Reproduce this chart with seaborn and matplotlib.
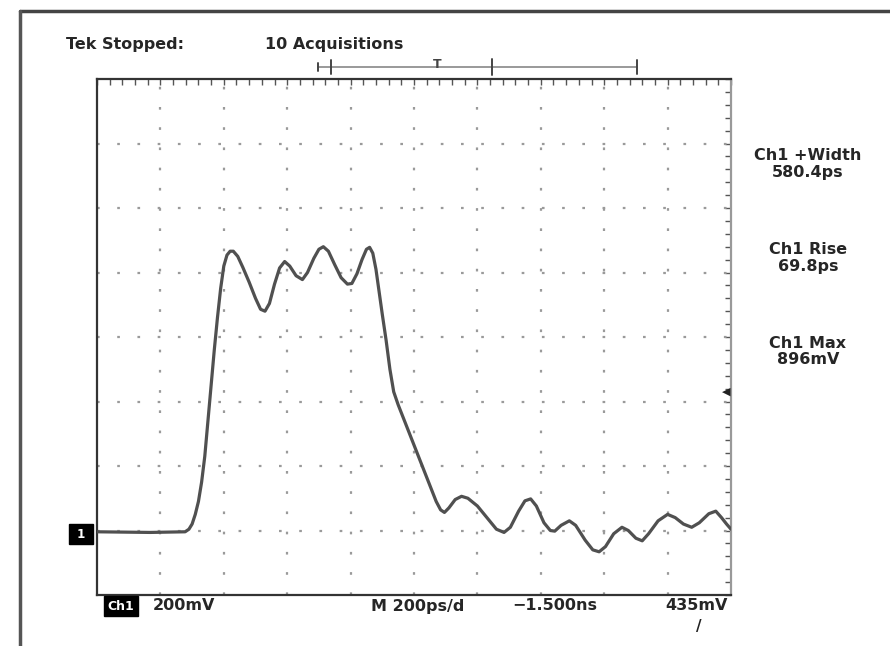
import matplotlib
matplotlib.use("Agg")
import matplotlib.pyplot as plt
import seaborn as sns
import numpy as np
import pandas as pd

# waveform, in graticule divisions (10 x 8)
t_div = [0.0, 0.84, 1.39, 1.45, 1.50, 1.55, 1.60, 1.65, 1.70, 1.75, 1.80, 1.85, 1.90,
         1.95, 2.00, 2.05, 2.10, 2.15, 2.22, 2.30, 2.40, 2.50, 2.58, 2.65, 2.72, 2.80,
         2.88, 2.96, 3.04, 3.14, 3.24, 3.32, 3.42, 3.50, 3.57, 3.65, 3.75, 3.85, 3.95,
         4.02, 4.10, 4.18, 4.25, 4.30, 4.35, 4.40, 4.45, 4.50, 4.56, 4.62, 4.68, 4.75,
         4.85, 4.95, 5.05, 5.15, 5.25, 5.35, 5.42, 5.48, 5.55, 5.65, 5.75, 5.85, 6.00,
         6.15, 6.30, 6.42, 6.52, 6.65, 6.75, 6.84, 6.93, 7.05, 7.15, 7.22, 7.32, 7.45,
         7.55, 7.70, 7.82, 7.92, 8.02, 8.15, 8.28, 8.38, 8.50, 8.60, 8.70, 8.85, 9.00,
         9.12, 9.25, 9.38, 9.50, 9.65, 9.76, 9.85, 9.93, 10.0]
v_div = [0.98, 0.97, 0.98, 1.02, 1.10, 1.25, 1.45, 1.75, 2.15, 2.70, 3.25, 3.80, 4.30,
         4.75, 5.10, 5.27, 5.33, 5.33, 5.25, 5.08, 4.85, 4.60, 4.43, 4.40, 4.52, 4.82,
         5.07, 5.17, 5.10, 4.95, 4.89, 5.00, 5.22, 5.36, 5.40, 5.33, 5.12, 4.92, 4.82,
         4.83, 4.98, 5.20, 5.36, 5.39, 5.30, 5.05, 4.70, 4.35, 3.95, 3.50, 3.15, 2.95,
         2.70, 2.45, 2.20, 1.95, 1.70, 1.45, 1.32, 1.28, 1.35, 1.48, 1.53, 1.50, 1.38,
         1.20, 1.02, 0.97, 1.05, 1.30, 1.46, 1.49, 1.38, 1.12, 1.00, 0.99, 1.08, 1.15,
         1.08, 0.85, 0.70, 0.67, 0.75, 0.95, 1.05, 1.00, 0.88, 0.84, 0.95, 1.15, 1.25,
         1.20, 1.10, 1.05, 1.12, 1.26, 1.30, 1.20, 1.10, 1.02]

meas_names = ["Ch1 +Width", "Ch1 Rise", "Ch1 Max"]
meas_values = ["580.4ps", "69.8ps", "896mV"]
meas_y = [155, 250, 343]

df = pd.DataFrame({"t": t_div, "v": v_div})

sns.set_style("white")
plt.rcParams["font.family"] = ["DejaVu Sans"]

W, H = 890, 646
fig = plt.figure(figsize=(W / 100, H / 100), dpi=100)
ax = fig.add_axes([97 / W, 1 - 595 / H, (731 - 97) / W, (595 - 79) / H])

def fx(x):
    return x / W

def fy(y):
    return 1 - y / H

# outer frame of the screenshot
fig.add_artist(plt.Line2D([fx(20), fx(890)], [fy(11), fy(11)], color="#444", lw=2.5))
fig.add_artist(plt.Line2D([fx(20), fx(20)], [fy(11), fy(646)], color="#555", lw=2.5))

# dotted graticule
dots = (0, (1.2, 7.9))
for gx in range(1, 10):
    ax.axvline(gx, color="#9a9a9a", lw=1.6, ls=dots, zorder=1)
for gy in range(1, 8):
    ax.axhline(gy, color="#9a9a9a", lw=1.6, ls=dots, zorder=1)

sns.lineplot(data=df, x="t", y="v", sort=False, ax=ax, color="#505050", lw=2.3, zorder=3)
ax.lines[-1].set_solid_joinstyle("round")

ax.set_xlim(0, 10)
ax.set_ylim(0, 8)
ax.set_xlabel("")
ax.set_ylabel("")
ax.set_xticks(np.arange(0, 10.01, 0.2))
ax.set_yticks(np.arange(0, 8.01, 0.2))
ax.tick_params(axis="both", direction="in", length=4, width=1, color="#555",
               top=True, right=True, labelbottom=False, labelleft=False)
for side in ["left", "top", "bottom"]:
    ax.spines[side].set_color("#333")
    ax.spines[side].set_linewidth(1.6)
ax.spines["right"].set_color("#999")
ax.spines["right"].set_linewidth(1.6)

bold = dict(fontsize=11.5, fontweight="bold", color="#262626")

fig.text(fx(66), fy(45), "Tek Stopped:", va="center", ha="left", **bold)
fig.text(fx(265), fy(45), "10 Acquisitions", va="center", ha="left", **bold)

# trigger position bar
bar_y = fy(67)
fig.add_artist(plt.Line2D([fx(318), fx(637)], [bar_y, bar_y], color="#888", lw=1.2))
for bx, h in [(318, 8), (331, 14), (492, 16), (637, 14)]:
    fig.add_artist(plt.Line2D([fx(bx), fx(bx)], [fy(67 - h / 2), fy(67 + h / 2)],
                              color="#444", lw=1.4))
fig.text(fx(437), fy(65), "T", ha="center", va="center", fontsize=9, fontweight="bold", color="#444")

for name, val, y in zip(meas_names, meas_values, meas_y):
    fig.text(fx(808), fy(y), name, ha="center", va="center", **bold)
    fig.text(fx(808), fy(y + 17), val, ha="center", va="center", **bold)

# channel ground marker and trigger level marker
fig.text(fx(81), fy(534), " 1 ", ha="center", va="center", fontsize=8.5, fontweight="bold",
         color="white", bbox=dict(boxstyle="square,pad=0.3", fc="black", ec="black"))
fig.text(fx(726), fy(392), "\u25c0", ha="center", va="center", fontsize=8, color="#222")

# bottom readout
fig.text(fx(121), fy(606), "Ch1", ha="center", va="center", fontsize=9, fontweight="bold",
         color="white", bbox=dict(boxstyle="square,pad=0.25", fc="black", ec="black"))
fig.text(fx(153), fy(606), "200mV", ha="left", va="center", **bold)
fig.text(fx(371), fy(606), "M 200ps/d", ha="left", va="center", **bold)
fig.text(fx(512), fy(606), "\u22121.500ns", ha="left", va="center", **bold)
fig.text(fx(728), fy(606), "435mV", ha="right", va="center", **bold)
fig.text(fx(699), fy(627), "/", ha="center", va="center", fontsize=11, fontweight="bold", color="#222")

fig.savefig("out.png", dpi=100)
